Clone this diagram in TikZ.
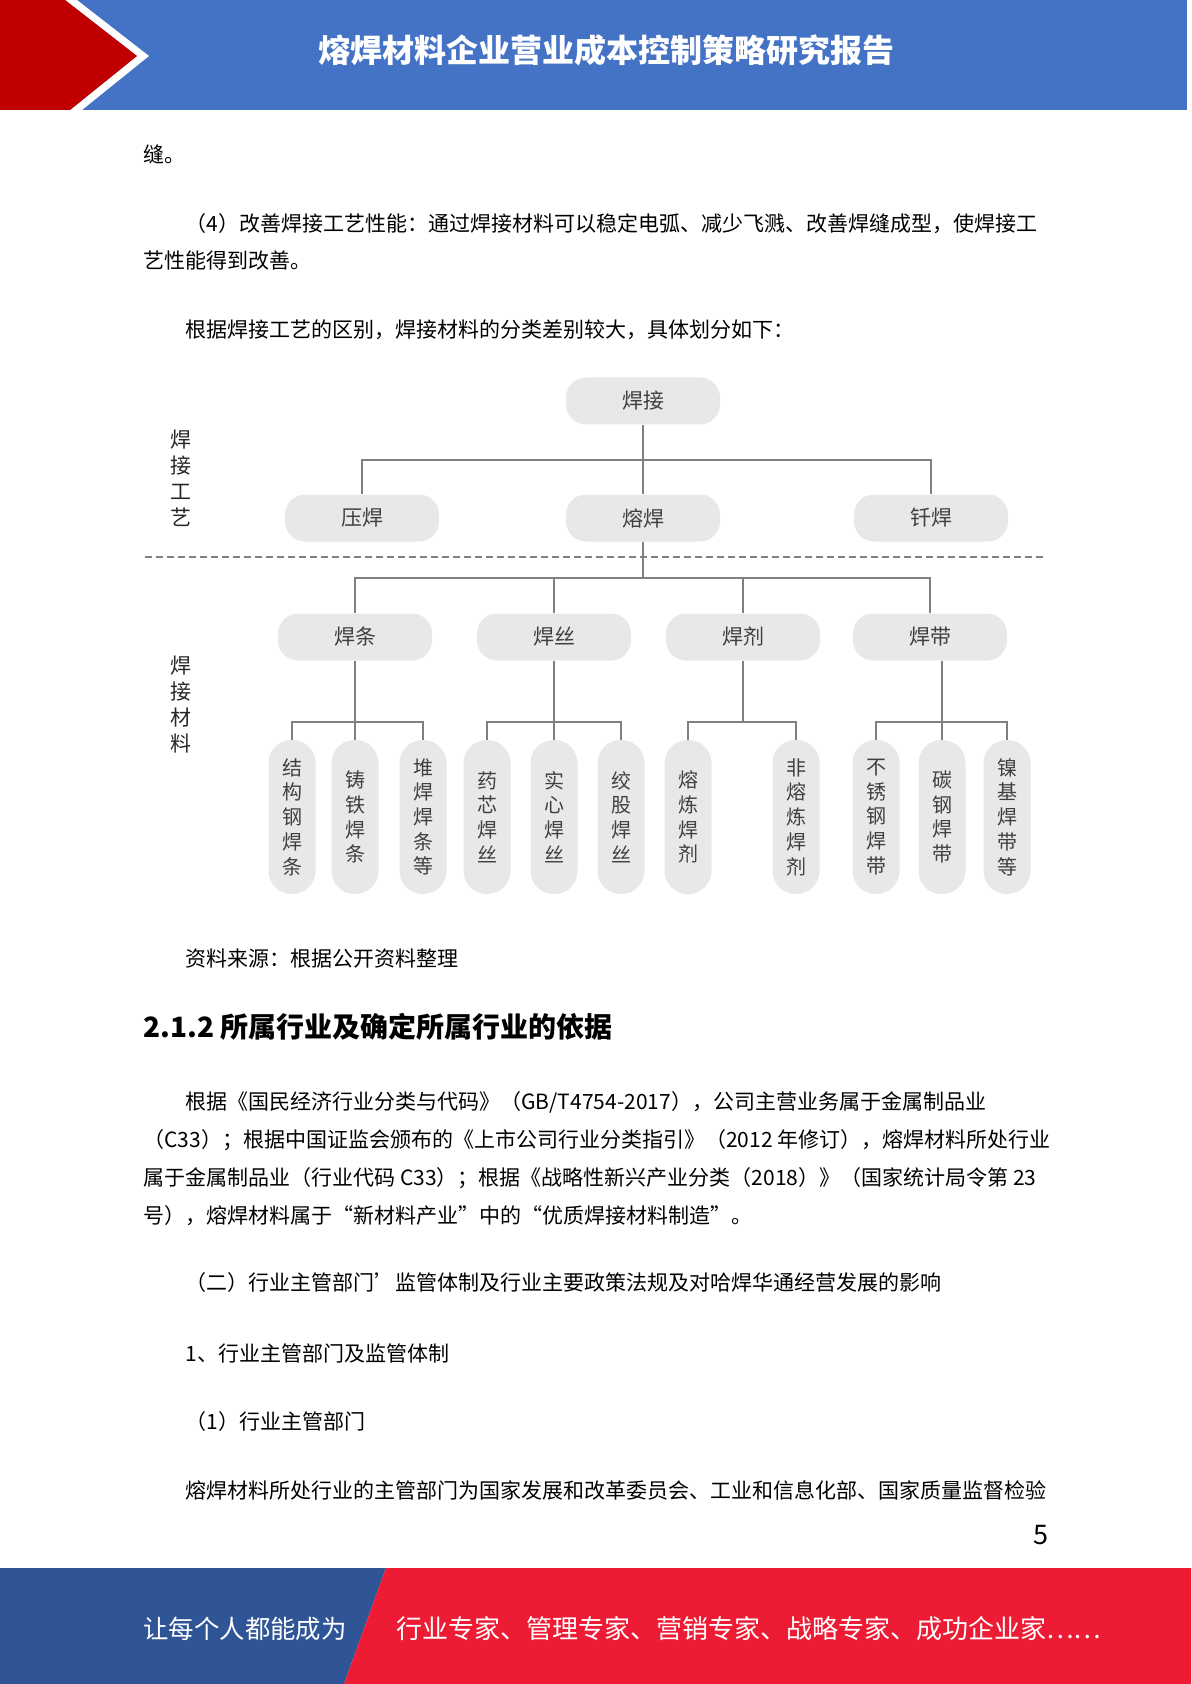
\documentclass[tikz,border=0pt]{standalone}
\usepackage{fontspec}
\setmainfont{Noto Sans CJK SC}
\usepackage{tikz}
\usetikzlibrary{calc}
\definecolor{headblue}{RGB}{68,114,196}
\definecolor{headred}{RGB}{192,0,0}
\definecolor{footblue}{RGB}{47,85,151}
\definecolor{footred}{RGB}{238,27,53}
\definecolor{pillgray}{RGB}{232,232,232}
\definecolor{linegray}{RGB}{127,127,127}
\definecolor{textgray}{RGB}{64,64,64}

\begin{document}
\begin{tikzpicture}[
  x=0.5pt, y=-0.5pt,
  bodytxt/.style={anchor=west, inner sep=0pt, font=\fontsize{10.5}{12}\selectfont},
  lvlbox/.style={fill=pillgray, text=textgray, rounded corners=10pt,
                 minimum width=77pt, minimum height=23.5pt,
                 font=\fontsize{10.5}{12}\selectfont},
  leafbox/.style={fill=pillgray, text=textgray, rounded corners=11.5pt,
                  minimum width=23.5pt, minimum height=77pt, inner sep=0pt,
                  align=center, font=\fontsize{10}{12.35}\selectfont},
  conn/.style={draw=linegray, line width=0.75pt},
  sidelbl/.style={align=center, inner sep=0pt, text=black!85,
                  font=\fontsize{10.5}{13}\selectfont},
]
\useasboundingbox (0,0) rectangle (1191,1684);

% HEADER
\fill[headblue] (0,0) rectangle (1187,110);
\fill[white] (65,0) -- (77,0) -- (149,56) -- (82,110) -- (70,110) -- (137,56) -- cycle;
\fill[headred] (0,0) -- (65,0) -- (137,56) -- (70,110) -- (0,110) -- cycle;
\node[text=white, font=\bfseries\fontsize{16}{18}\selectfont] (title) at (606,50)
  {熔焊材料企业营业成本控制策略研究报告};

% TEXT ABOVE
\node[bodytxt] (p1) at (143,154) {缝。};
\node[bodytxt] (p2) at (185,224) {（4）改善焊接工艺性能：通过焊接材料可以稳定电弧、减少飞溅、改善焊缝成型，使焊接工};
\node[bodytxt] (p3) at (143,261) {艺性能得到改善。};
\node[bodytxt] (p4) at (185,330) {根据焊接工艺的区别，焊接材料的分类差别较大，具体划分如下：};

% WELDING PROCESS
\node[lvlbox] (weld)    at (643,401) {焊接};
\node[lvlbox] (yahan)   at (362,518) {压焊};
\node[lvlbox] (ronghan) at (643,518) {熔焊};
\node[lvlbox] (qianhan) at (931,518) {钎焊};
\coordinate (bar1) at (0,460);
\draw[conn] (weld.south) -- (ronghan.north);
\draw[conn] (yahan.north) |- (qianhan.north |- bar1) -- (qianhan.north);
\node[sidelbl] (sideA) at (181,478) {焊\\接\\工\\艺};

\coordinate (dashL) at (145,557);
\coordinate (dashR) at (1044,557);
\draw[linegray, line width=0.6pt, dash pattern=on 3.5pt off 2pt] (dashL) -- (dashR);

% WELDING MATERIALS
\node[lvlbox] (hantiao) at (355,637) {焊条};
\node[lvlbox] (hansi)   at (554,637) {焊丝};
\node[lvlbox] (hanji)   at (743,637) {焊剂};
\node[lvlbox] (handai)  at (930,637) {焊带};
\coordinate (bar2) at (0,578);
\coordinate (bar3) at (0,722);
\draw[conn] (ronghan.south) -- (ronghan.south |- bar2);
\draw[conn] (hantiao.north) |- (handai.north |- bar2) -- (handai.north);
\draw[conn] (hansi.north) -- (hansi.north |- bar2);
\draw[conn] (hanji.north) -- (hanji.north |- bar2);
\node[sidelbl] (sideB) at (181,705) {焊\\接\\材\\料};

\node[leafbox] (l1)  at (292,817)  {结\\构\\钢\\焊\\条};
\node[leafbox] (l2)  at (355,817)  {铸\\铁\\焊\\条};
\node[leafbox] (l3)  at (423,817)  {堆\\焊\\焊\\条\\等};
\node[leafbox] (l4)  at (487,817)  {药\\芯\\焊\\丝};
\node[leafbox] (l5)  at (554,817)  {实\\心\\焊\\丝};
\node[leafbox] (l6)  at (621,817)  {绞\\股\\焊\\丝};
\node[leafbox] (l7)  at (688,817)  {熔\\炼\\焊\\剂};
\node[leafbox] (l8)  at (796,817)  {非\\熔\\炼\\焊\\剂};
\node[leafbox] (l9)  at (876,817)  {不\\锈\\钢\\焊\\带};
\node[leafbox] (l10) at (942,817)  {碳\\钢\\焊\\带};
\node[leafbox] (l11) at (1007,817) {镍\\基\\焊\\带\\等};

\draw[conn] (hantiao.south) -- (l2.north);
\draw[conn] (l1.north) |- (l3.north |- bar3) -- (l3.north);
\draw[conn] (hansi.south) -- (l5.north);
\draw[conn] (l4.north) |- (l6.north |- bar3) -- (l6.north);
\draw[conn] (hanji.south) -- (hanji.south |- bar3);
\draw[conn] (l7.north) |- (l8.north |- bar3) -- (l8.north);
\draw[conn] (handai.south -| l10.north) -- (l10.north);
\draw[conn] (l9.north) |- (l11.north |- bar3) -- (l11.north);

% TEXT BELOW
\node[bodytxt] (src) at (185,959) {资料来源：根据公开资料整理};
\node[bodytxt, font=\bfseries\fontsize{14}{16}\selectfont] (head) at (143,1027)
  {2.1.2 所属行业及确定所属行业的依据};
\node[bodytxt] (q1) at (185,1102) {根据《国民经济行业分类与代码》（GB/T4754-2017），公司主营业务属于金属制品业};
\node[bodytxt] (q2) at (143,1140) {（C33）；根据中国证监会颁布的《上市公司行业分类指引》（2012 年修订），熔焊材料所处行业};
\node[bodytxt] (q3) at (143,1178) {属于金属制品业（行业代码 C33）；根据《战略性新兴产业分类（2018）》（国家统计局令第 23};
\node[bodytxt] (q4) at (143,1216) {号），熔焊材料属于“新材料产业”中的“优质焊接材料制造”。};
\node[bodytxt] (r1) at (185,1283) {（二）行业主管部门’监管体制及行业主要政策法规及对哈焊华通经营发展的影响};
\node[bodytxt] (r2) at (185,1353) {1、行业主管部门及监管体制};
\node[bodytxt] (r3) at (185,1422) {（1）行业主管部门};
\node[bodytxt] (r4) at (185,1490) {熔焊材料所处行业的主管部门为国家发展和改革委员会、工业和信息化部、国家质量监督检验};
\node[font=\fontsize{13.5}{15}\selectfont, inner sep=0pt] (pnum) at (1041,1535) {5};

% FOOTER
\fill[footblue] (0,1568) -- (386,1568) -- (344,1684) -- (0,1684) -- cycle;
\fill[footred] (386,1568) -- (1191,1568) -- (1191,1684) -- (344,1684) -- cycle;
\node[bodytxt, text=white, font=\fontsize{12.7}{14}\selectfont] (footL) at (143,1629) {让每个人都能成为};
\node[bodytxt, text=white, font=\fontsize{13}{14}\selectfont] (footR) at (396,1629)
  {行业专家、管理专家、营销专家、战略专家、成功企业家……};

\end{tikzpicture}
\end{document}
